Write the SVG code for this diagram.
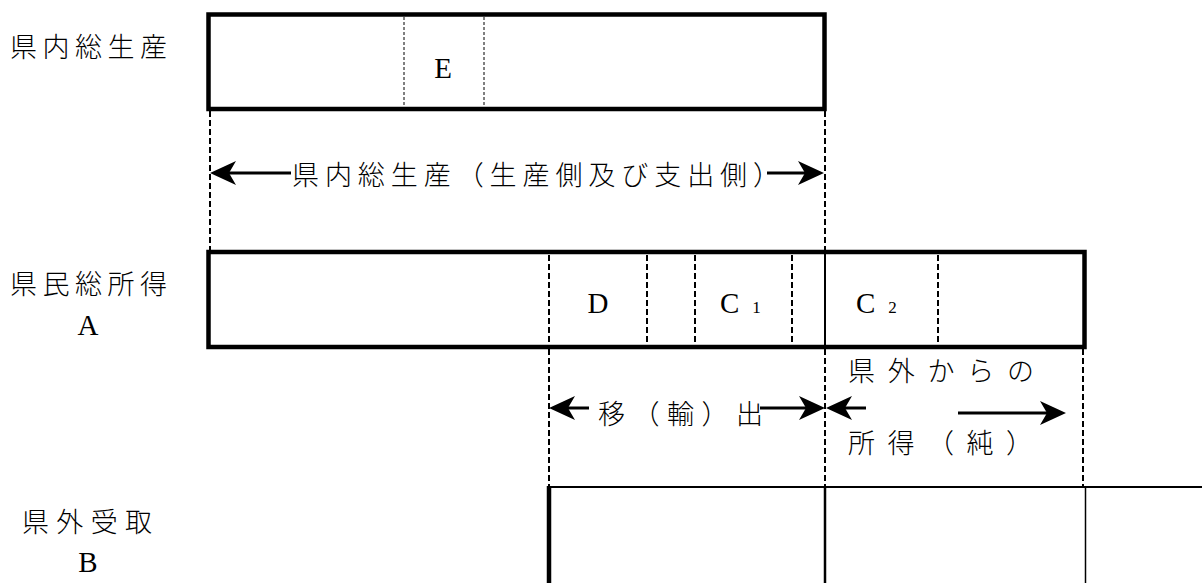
<svg xmlns="http://www.w3.org/2000/svg" width="1202" height="583" viewBox="0 0 1202 583">
<style>
.bg{fill:#fff}
.box{fill:none;stroke:#000;stroke-width:4.5}
.thin{stroke:#000;stroke-width:1;stroke-dasharray:3 2;fill:none}
.dash{stroke:#000;stroke-width:2;stroke-dasharray:6 3;fill:none}
.solid{stroke:#000;fill:none}
.arr{stroke:#000;stroke-width:3;fill:none}
.jp{font-family:"Noto Sans CJK JP","Noto Sans CJK SC",sans-serif;font-size:27px;font-weight:300;fill:#000}
.lt{font-family:"Liberation Serif","Times New Roman",serif;font-size:29px;fill:#000}
</style>
<defs>
<path id="hd" d="M0,0 L-26,-12 L-19,0 L-26,12 Z" fill="#000"/>
</defs>
<rect class="bg" x="0" y="0" width="1202" height="583"/>

<g id="labels">
<text class="jp" x="10" y="57" textLength="157" lengthAdjust="spacing">県内総生産</text>
<text class="jp" x="10" y="294" textLength="157" lengthAdjust="spacing">県民総所得</text>
<text class="lt" x="88" y="335" text-anchor="middle">A</text>
<text class="jp" x="22" y="532" textLength="130" lengthAdjust="spacing">県外受取</text>
<text class="lt" x="88" y="572" text-anchor="middle">B</text>
</g>

<g id="gdp-box">
<rect class="box" x="208.5" y="14.5" width="616" height="94.5"/>
<line class="thin" x1="404" y1="17" x2="404" y2="107"/>
<line class="thin" x1="484" y1="17" x2="484" y2="107"/>
<text class="lt" x="443" y="78" text-anchor="middle">E</text>
</g>

<g id="gni-box">
<rect class="box" x="208.5" y="252" width="876" height="95"/>
<line class="dash" x1="549" y1="255" x2="549" y2="345"/>
<line class="dash" x1="647" y1="255" x2="647" y2="345"/>
<line class="dash" x1="695" y1="255" x2="695" y2="345"/>
<line class="dash" x1="792" y1="255" x2="792" y2="345"/>
<line class="solid" stroke-width="2" x1="825" y1="254" x2="825" y2="345"/>
<line class="dash" x1="938" y1="255" x2="938" y2="345"/>
<text class="lt" x="598" y="313" text-anchor="middle">D</text>
<text class="lt" x="720" y="313">C<tspan font-size="17" dx="13">1</tspan></text>
<text class="lt" x="856" y="313">C<tspan font-size="17" dx="13">2</tspan></text>
</g>

<g id="receipts-box">
<line class="solid" stroke-width="2" x1="549" y1="487" x2="1202" y2="487"/>
<line class="solid" stroke-width="4.5" x1="549" y1="486" x2="549" y2="583"/>
<line class="solid" stroke-width="2.5" x1="825" y1="486" x2="825" y2="583"/>
<line class="solid" stroke-width="1.5" x1="1085.5" y1="486" x2="1085.5" y2="583"/>
</g>

<g id="connectors">
<line class="dash" x1="210" y1="111" x2="210" y2="250"/>
<line class="dash" x1="825" y1="111" x2="825" y2="250"/>
<line class="dash" x1="549" y1="349" x2="549" y2="486"/>
<line class="dash" x1="825" y1="349" x2="825" y2="486"/>
<line class="dash" x1="1083" y1="349" x2="1083" y2="486"/>

<line class="arr" x1="225" y1="173" x2="291" y2="173"/>
<use href="#hd" transform="translate(210,173) scale(-1,1)"/>
<line class="arr" x1="767" y1="173" x2="812" y2="173"/>
<use href="#hd" transform="translate(824,173)"/>

<line class="arr" x1="562" y1="408" x2="589" y2="408"/>
<use href="#hd" transform="translate(549,408) scale(-1,1)"/>
<line class="arr" x1="760" y1="408" x2="812" y2="408"/>
<use href="#hd" transform="translate(825,408)"/>
<line class="arr" x1="839" y1="408" x2="866" y2="408"/>
<use href="#hd" transform="translate(826,408) scale(-1,1)"/>
<line class="arr" x1="958" y1="413" x2="1053" y2="413"/>
<use href="#hd" transform="translate(1066,413)"/>
</g>

<g id="annotations">
<text class="jp" x="292" y="185" textLength="488" lengthAdjust="spacing">県内総生産（生産側及び支出側）</text>
<text class="jp" x="598" y="424" textLength="165" lengthAdjust="spacing">移（輸）出</text>
<text class="jp" x="848" y="381" textLength="186" lengthAdjust="spacing">県外からの</text>
<text class="jp" x="848" y="453" textLength="185" lengthAdjust="spacing">所得（純）</text>
</g>
</svg>
